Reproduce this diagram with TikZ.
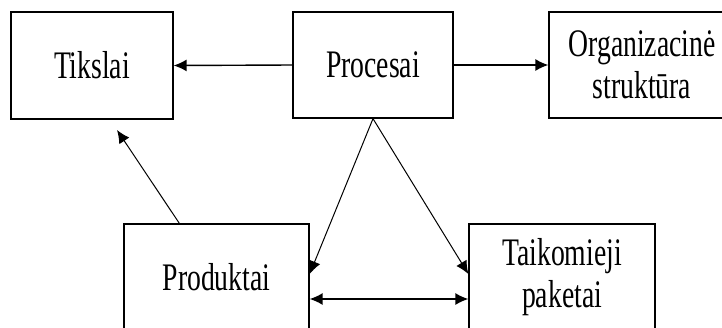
\documentclass[tikz,border=0pt]{standalone}
\usepackage{fontspec}
\setmainfont{Liberation Serif}[FakeStretch=0.71]
\usetikzlibrary{arrows.meta,calc}
\begin{document}
\begin{tikzpicture}[x=1pt,y=-1pt,
  box/.style={draw,line width=1.3pt,rectangle,inner sep=0pt,align=center,
    font=\fontsize{39}{42}\selectfont},
  conn/.style={line width=1.4pt,-{Latex[length=13pt,width=12pt]}},
  diag/.style={line width=1pt,-{Latex[length=13pt,width=12pt]}}]
\useasboundingbox (0,0) rectangle (722,327);
\clip (0,0) rectangle (722,327);
\node[box,minimum width=162pt,minimum height=107pt] (tik) at (92,65.5) {Tikslai};
\node[box,minimum width=160pt,minimum height=106pt] (pro) at (373,65) {Procesai};
\node[box,minimum width=186pt,minimum height=106pt] (org) at (642,65) {Organizacinė\\struktūra};
\node[box,minimum width=185pt,minimum height=106pt] (prd) at (216.5,277) {Produktai};
\node[box,minimum width=186pt,minimum height=106pt] (tai) at (562,277) {Taikomieji\\paketai};
\coordinate (tiktip) at (117,130);
\draw[conn] (pro.west) -- (tik.east);
\draw[conn] (pro.east) -- (org.west);
\draw[diag] ($(prd.north west)+(56,0)$) -- (tiktip);
\draw[diag] (pro.south) -- ($(prd.east)+(0,-3)$);
\draw[diag] (pro.south) -- ($(tai.west)+(0,-3)$);
\draw[line width=1.4pt,{Latex[length=13pt,width=12pt]}-{Latex[length=13pt,width=12pt]}] ($(prd.east)+(0,22)$) -- ($(tai.west)+(0,22)$);
\end{tikzpicture}
\end{document}
